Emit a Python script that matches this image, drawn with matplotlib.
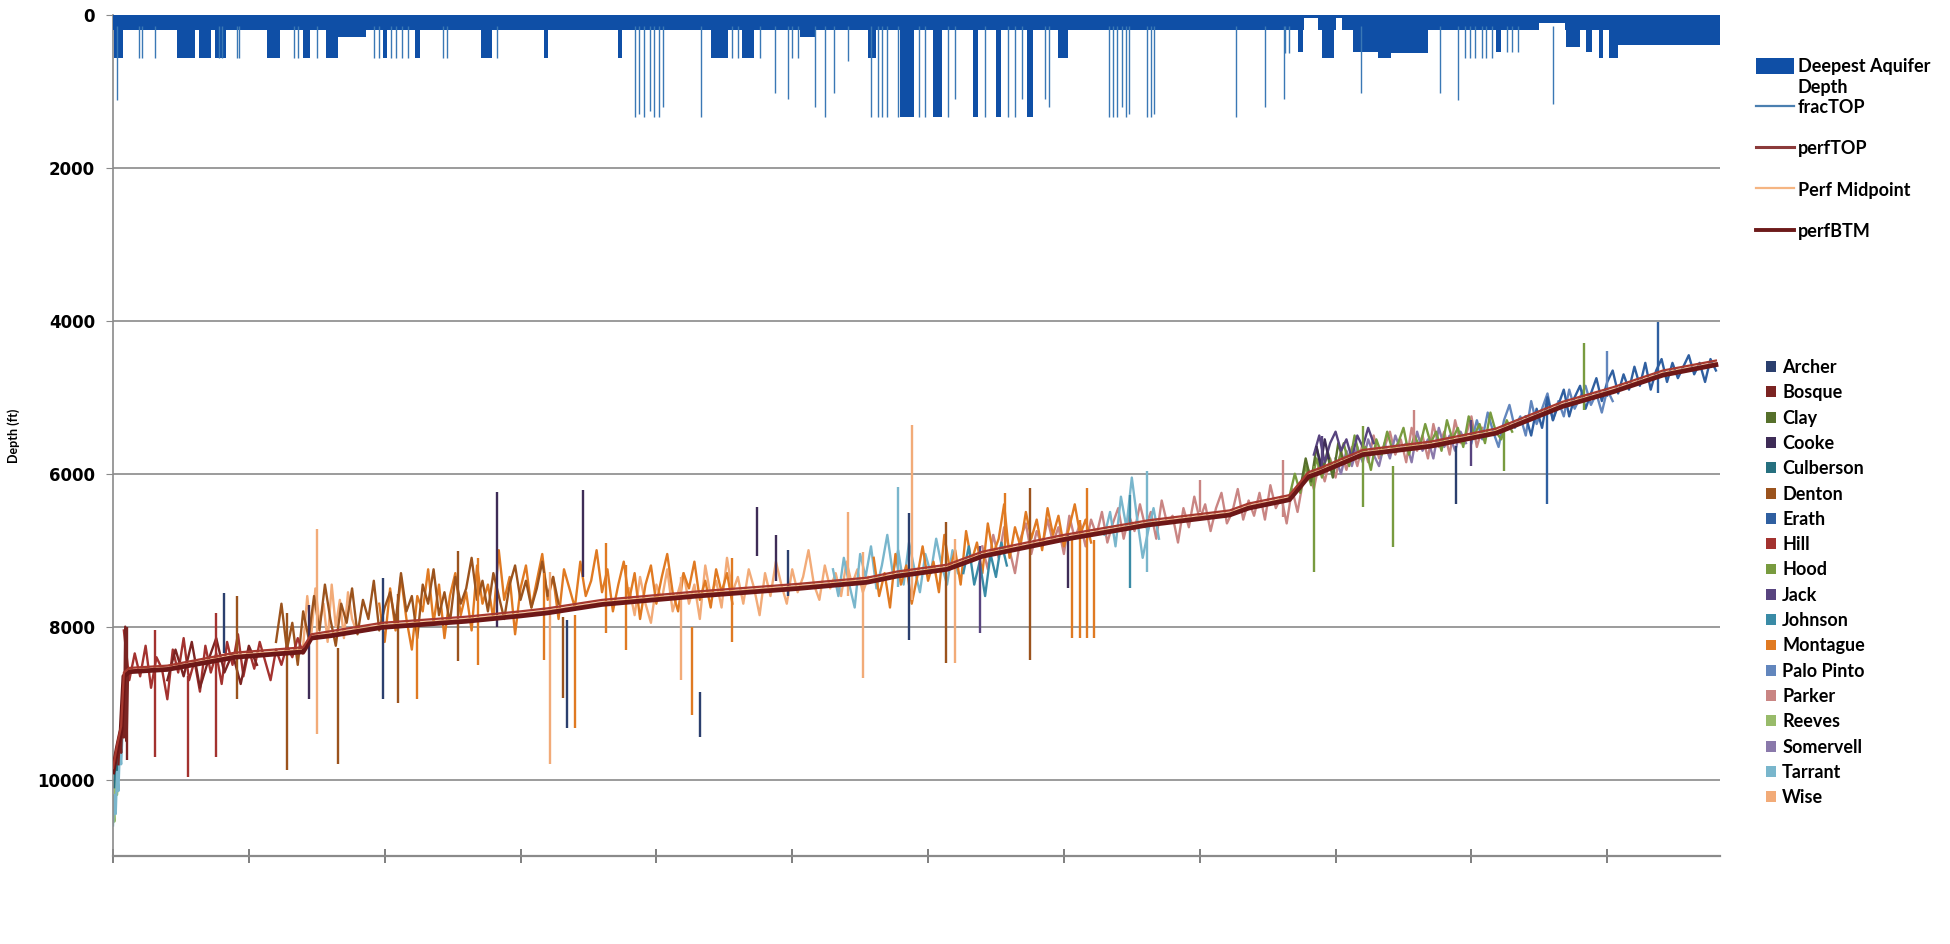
import numpy as np
import matplotlib
matplotlib.use('Agg')
import matplotlib.pyplot as plt
from matplotlib.patches import Patch
from matplotlib.lines import Line2D

plt.rcParams['font.family'] = ['Lato', 'DejaVu Sans']

# ---------------- data (x = well index, y = depth in ft) ----------------
# deepest aquifer depth, as step breakpoints
aquifer_well = [0, 1, 7, 47, 60, 63, 72, 75, 83, 113, 123, 140, 145, 157, 166, 186,
                199, 202, 222, 226, 271, 279, 317, 320, 372, 375, 440, 453, 463, 472,
                506, 517, 556, 562, 579, 590, 604, 610, 633, 637, 650, 654, 673, 677,
                696, 703, 872, 876, 877, 887, 890, 899, 900, 905, 913, 931, 941, 968,
                1018, 1022, 1050, 1069, 1070, 1080, 1084, 1089, 1094, 1097, 1101, 1108]
aquifer_depth = [190, 560, 190, 560, 190, 560, 190, 560, 190, 560, 190, 560, 190, 560, 290, 190,
                 560, 190, 560, 190, 560, 190, 560, 190, 560, 190, 560, 190, 560, 190,
                 290, 190, 560, 190, 1330, 190, 1330, 190, 1330, 190, 1330, 190, 1330, 190,
                 560, 190, 480, 190, 40, 190, 560, 190, 40, 190, 480, 560, 500, 190,
                 480, 190, 100, 190, 420, 190, 480, 190, 565, 190, 565, 390]

fractop_well = [3, 19, 21, 31, 78, 80, 91, 93, 133, 136, 150, 192, 196, 205, 208, 213, 217,
                243, 246, 283, 384, 387, 391, 395, 398, 402, 405, 433, 456, 460, 476, 487,
                497, 500, 504, 517, 524, 531, 541, 558, 563, 566, 570, 578, 593, 598, 615,
                620, 642, 659, 664, 669, 686, 689, 733, 736, 739, 743, 746, 748, 761, 764,
                766, 827, 848, 862, 863, 866, 919, 977, 990, 995, 999, 1003, 1008, 1011,
                1015, 1026, 1030, 1034, 1060]
fractop_depth = [1110, 560, 560, 560, 560, 560, 560, 560, 560, 560, 560, 560, 560, 560, 560, 560, 560,
                 560, 560, 560, 1330, 1300, 1330, 1250, 1330, 1330, 1200, 1330, 560, 560, 560, 1020,
                 1100, 560, 560, 1200, 1330, 1020, 600, 1330, 1330, 1330, 1330, 1330, 1330, 1330, 1330,
                 1100, 1330, 1330, 1330, 1100, 1100, 1200, 1330, 1330, 1330, 1200, 1330, 1300, 1330, 1330,
                 1300, 1330, 1200, 1100, 500, 500, 1020, 1020, 1110, 565, 565, 565, 565, 565,
                 565, 480, 480, 480, 1160]

perf_well = [0, 3, 6, 8, 12, 40, 90, 140, 146, 160, 198, 260, 300, 320, 360, 430, 505, 555,
             577, 614, 640, 700, 762, 822, 836, 866, 880, 888, 908, 920, 970, 1018, 1067,
             1104, 1141, 1180]
perftop_depth = [9850, 9550, 9300, 8600, 8540, 8510, 8340, 8270, 8100, 8060, 7950, 7870, 7800,
                 7760, 7650, 7540, 7440, 7360, 7280, 7190, 7020, 6800, 6610, 6480, 6390, 6280,
                 5980, 5930, 5780, 5690, 5580, 5410, 5060, 4870, 4650, 4520]
perfmid_depth = [9880, 9580, 9330, 8625, 8565, 8535, 8370, 8300, 8125, 8090, 7980, 7900, 7830,
                 7790, 7680, 7570, 7470, 7390, 7310, 7220, 7050, 6830, 6640, 6510, 6420, 6310,
                 6010, 5960, 5810, 5720, 5610, 5440, 5090, 4900, 4680, 4550]
perfbtm_depth = [9900, 9600, 9350, 8650, 8590, 8560, 8400, 8330, 8150, 8120, 8010, 7930, 7860,
                 7820, 7710, 7600, 7500, 7420, 7340, 7250, 7080, 6860, 6670, 6540, 6450, 6340,
                 6040, 5990, 5840, 5750, 5640, 5470, 5120, 4930, 4710, 4575]

counties = ['Archer', 'Bosque', 'Clay', 'Cooke', 'Culberson', 'Denton', 'Erath', 'Hill', 'Hood',
            'Jack', 'Johnson', 'Montague', 'Palo Pinto', 'Parker', 'Reeves', 'Somervell',
            'Tarrant', 'Wise']
county_colors = ['#2b3f6e', '#7b2422', '#56702b', '#3e2c57', '#26707f', '#9b531d', '#2f5fa0',
                 '#a3322f', '#789b3f', '#58447f', '#3a8ba6', '#e07a22', '#6286bd', '#c98583',
                 '#98bb6a', '#8a79ab', '#79b6cc', '#f2ab78']

# county traces: depth per well, first well and well step given with each
reeves_depth = [10300, 10550, 9900, 10200, 9800]
culberson_depth = [10100, 9700, 10000, 9500, 9650, 9300]
tarrant_a_depth = [10600, 10200, 10450, 9900, 10150, 9600, 9800, 9400]
bosque_a_depth = [9800, 9400, 9650, 9100, 9450, 8000, 9500, 8650]
bosque_b_depth = [8700, 8300, 8650, 8200, 8800, 8450, 8150, 8600, 8350, 8750, 8250, 8500]
hill_depth = [8050, 8700, 8350, 8650, 8250, 8800, 8400, 8550, 8950, 8300, 8600, 8150, 8700,
              8450, 8850, 8250, 8600, 8350, 8750, 8200, 8500, 8100, 8650, 8300, 8550, 8200,
              8450, 8700, 8300, 8500, 8250, 8400, 8150, 8350]
wise_a_depth = [8250, 7600, 8100, 7500, 7950, 7700, 8200, 7450, 8000, 7650, 8150, 7550, 7900, 8050]
denton_depth = [8200, 7700, 8300, 7950, 8500, 7800, 8150, 7600, 8050, 7450,
                7900, 8250, 7700, 7950, 7500, 8100, 7650, 7900, 7400, 8050,
                7750, 7550, 7950, 7300, 7800, 7600, 8150, 7450, 7700, 7250,
                7850, 7550, 7950, 7350, 7700, 7500, 7100, 7650, 7400, 7800,
                7300, 7600, 7900, 7450, 7200, 7650, 7400, 7750, 7500, 7150,
                7600, 7350, 7700]
montague_a_depth = [7700, 8200, 7500, 8050, 7350, 7900, 8300, 7600, 7800, 7250,
                    7950, 7450, 8150, 7600, 7300, 7850, 7550, 8050, 7200, 7700,
                    7450, 7900, 7000, 7650, 7350, 8100, 7500, 7200, 7750, 7400,
                    7050, 7650, 7350, 7900, 7250, 7500, 7750, 7150, 7600, 7400,
                    7000, 7550, 7250, 7800, 7450, 7150, 7650, 7300, 7900, 7450,
                    7200, 7700, 7350, 7050, 7550, 7800, 7300, 7500, 7150, 7650,
                    7400, 7750, 7250, 7550, 7300, 7700]
wise_b_depth = [7500, 7850, 7350, 7700, 7950, 7450, 7650, 7250, 7800, 7550,
                7300, 7700, 7450, 7900, 7200, 7600, 7400, 7750, 7100, 7550,
                7350, 7700, 7250, 7500, 7850, 7300, 7600, 7150, 7450, 7700,
                7250, 7550, 7350, 7000, 7450, 7650, 7200, 7500, 7300, 7600,
                7150, 7450, 7250, 7550, 7350]
tarrant_b_depth = [7250, 7600, 7100, 7450, 7750, 7050, 7350, 6950, 7500, 7200, 6800, 7300,
                   7000, 7450, 6900, 7250, 7550, 7050, 7300, 6850, 7200, 7450, 7000, 7300]
montague_b_depth = [7100, 7600, 7300, 7750, 7050, 7450, 7200, 7700, 7350, 6950,
                    7400, 7150, 7550, 6800, 7250, 7000, 7450, 6750, 7150, 6900,
                    7300, 6650, 7050, 6850, 6400, 7100, 6700, 6950, 6500, 6850,
                    6600, 7000, 6450, 6800, 6550, 6950, 6700, 6400, 6800, 6600, 6900]
johnson_depth = [7300, 6950, 7450, 7150, 7600, 7050, 7350, 6900, 7200]
parker_depth = [6950, 7250, 6800, 7100, 6700, 7000, 7300, 6850, 6650, 7050,
                6750, 6950, 6600, 6900, 6700, 7050, 6550, 6850, 6650, 6950,
                6600, 6800, 6500, 6900, 6650, 6450, 6850, 6550, 6750, 6400,
                6700, 6500, 6850, 6350, 6650, 6550, 6900, 6450, 6700, 6300,
                6600, 6400, 6750, 6450, 6250, 6650, 6500, 6200, 6600, 6350,
                6550, 6250, 6600, 6150, 6450, 6300, 6650, 6200, 6500, 6100,
                5950, 6200, 5850, 6100, 5800, 6050, 5700, 5950, 5650, 5900,
                5600, 5850, 5500, 5800, 5650, 5450, 5750, 5550, 5850, 5400,
                5700, 5500, 5800, 5350, 5650, 5450, 5750, 5300, 5600, 5500,
                5250, 5650, 5400]
tarrant_c_depth = [6800, 6500, 6950, 6300, 6700, 6050, 6600, 7100, 6750, 6450, 6850]
hood_depth = [6300, 6000, 6250, 5900, 6150, 5800, 6050, 5700, 5950, 5850,
              5600, 5900, 5500, 5800, 5650, 5950, 5550, 5750, 5450, 5700,
              5600, 5400, 5750, 5500, 5650, 5350, 5600, 5450, 5700, 5300,
              5550, 5400, 5650, 5250, 5500, 5350, 5600, 5200, 5450, 5550, 5300, 5450]
clay_depth = [6200, 5800, 6100, 5650, 5950, 5750, 6050, 5600, 5850]
cooke_depth = [5650, 5900, 5550, 5800]
jack_depth = [5750, 5500, 5850, 5600, 5450, 5700, 5550, 5800, 5500, 5650, 5400, 5600]
somervell_depth = [5800, 6000, 5700, 5900, 5650, 5850, 5550, 5750, 5900, 5600, 5800, 5500,
                   5700, 5600, 5850, 5450, 5700, 5550, 5800, 5400, 5650, 5500, 5700, 5450, 5600]
palo_pinto_depth = [5600, 5300, 5550, 5200, 5450, 5650, 5300, 5100, 5400, 5250, 5500, 5050,
                    5350, 5150, 4950, 5300, 5050, 5250, 4900, 5150, 5000, 4850, 5100, 4950,
                    5200, 4900, 5050]
erath_depth = [5250, 5500, 5150, 5400, 5000, 5300, 5100, 4900, 5250, 5000,
               4850, 5150, 4950, 4750, 5050, 4800, 4650, 4950, 4700, 4900,
               4600, 4850, 4550, 4900, 4650, 4500, 4800, 4550, 4750, 4600,
               4450, 4700, 4550, 4800, 4500, 4650]

# single-well spikes: well, top depth, bottom depth, county
spike_well = [10, 31, 55, 76, 82, 91, 128, 144, 150, 166, 199, 210, 224, 254, 269, 283, 317,
              322, 331, 334, 340, 346, 363, 378, 418, 426, 432, 456, 474, 488, 497, 541, 552,
              578, 586, 588, 613, 620, 638, 657, 675, 703, 706, 712, 717, 722, 749, 761, 800,
              861, 884, 890, 920, 942, 958, 989, 1000, 1024, 1056, 1083, 1100, 1137]
spike_top = [8000, 8040, 8650, 7820, 7560, 7600, 7820, 7720, 6720, 8280, 7370, 7570, 7920, 7010,
             7100, 6240, 7300, 7290, 7870, 7910, 7850, 6210, 6900, 7200, 7350, 8000, 8860, 7100,
             6430, 6800, 7000, 6500, 7030, 6180, 6510, 5360, 6630, 6860, 6950, 6250, 6190, 6800,
             6870, 6600, 6190, 6870, 6280, 5970, 6080, 5820, 5900, 5510, 5380, 5900, 5170, 5640,
             5300, 5380, 5030, 4290, 4400, 4010]
spike_bottom = [9740, 9700, 9970, 9710, 8340, 8950, 9880, 8950, 9400, 9800, 8950, 9000, 8950,
                8450, 8500, 8000, 8440, 9800, 8930, 9320, 9320, 7350, 8080, 8300, 8700, 9150,
                9450, 8200, 7080, 7400, 7600, 7600, 8670, 7480, 8170, 7650, 8470, 8470, 8080,
                7000, 8430, 7500, 8150, 8150, 8150, 8150, 7490, 7290, 6500, 6560, 7280, 6000,
                6430, 6960, 5700, 6400, 5900, 5970, 6400, 5160, 5000, 4940]
spike_county = ['Bosque', 'Hill', 'Hill', 'Hill', 'Archer', 'Denton', 'Denton', 'Cooke', 'Wise',
                'Denton', 'Archer', 'Denton', 'Montague', 'Denton', 'Montague', 'Cooke',
                'Montague', 'Wise', 'Denton', 'Archer', 'Montague', 'Cooke', 'Montague',
                'Montague', 'Wise', 'Montague', 'Archer', 'Montague', 'Cooke', 'Cooke', 'Archer',
                'Wise', 'Wise', 'Tarrant', 'Archer', 'Wise', 'Denton', 'Wise', 'Jack',
                'Montague', 'Denton', 'Cooke', 'Montague', 'Montague', 'Montague', 'Montague',
                'Johnson', 'Tarrant', 'Parker', 'Parker', 'Hood', 'Jack', 'Hood', 'Hood',
                'Parker', 'Archer', 'Jack', 'Hood', 'Erath', 'Hood', 'Palo Pinto', 'Erath']

# ---------------- figure ----------------
color_of = dict(zip(counties, county_colors))
x_max = 1183

fig = plt.figure(figsize=(19.5, 9.44), dpi=100)
ax = fig.add_axes([113 / 1950, 88 / 944, 1607 / 1950, 841 / 944])

# aquifer band at the top
aq_x = aquifer_well + [x_max]
aq_d = aquifer_depth + [aquifer_depth[-1]]
ax.fill_between(aq_x, 0, aq_d, step='post', color='#0f4fa6', lw=0, zorder=3)
ax.vlines(fractop_well, 150, fractop_depth, color='#3a78b5', lw=1.0, zorder=3)

# county traces (first well, well step, depths)
traces = [
    ('Parker', 640, 4, parker_depth),
    ('Wise', 380, 4, wise_b_depth),
    ('Wise', 140, 3, wise_a_depth),
    ('Tarrant', 530, 4, tarrant_b_depth),
    ('Tarrant', 730, 4, tarrant_c_depth),
    ('Somervell', 900, 4, somervell_depth),
    ('Palo Pinto', 1000, 4, palo_pinto_depth),
    ('Montague', 196, 4, montague_a_depth),
    ('Montague', 560, 4, montague_b_depth),
    ('Denton', 120, 4, denton_depth),
    ('Hill', 8, 4, hill_depth),
    ('Bosque', 40, 6, bosque_b_depth),
    ('Johnson', 626, 4, johnson_depth),
    ('Hood', 866, 4, hood_depth),
    ('Clay', 874, 4, clay_depth),
    ('Jack', 884, 4, jack_depth),
    ('Cooke', 886, 3, cooke_depth),
    ('Erath', 1040, 4, erath_depth),
    ('Reeves', 0, 1, reeves_depth),
    ('Culberson', 1, 1, culberson_depth),
    ('Tarrant', 0, 1, tarrant_a_depth),
    ('Bosque', 4, 1, bosque_a_depth),
]
for county, first, step, depth in traces:
    wells = first + step * np.arange(len(depth))
    ax.plot(wells, depth, color=color_of[county], lw=1.7, zorder=2)

ax.vlines(spike_well, spike_top, spike_bottom,
          colors=[color_of[c] for c in spike_county], lw=1.7, zorder=2)

# perforation lines
ax.plot(perf_well, perfmid_depth, color='#f5b582', lw=1.2, zorder=4)
ax.plot(perf_well, perfbtm_depth, color='#6d1717', lw=3.4, zorder=4)
ax.plot(perf_well, perftop_depth, color='#a8392f', lw=1.6, zorder=5)

# axes styling
ax.set_xlim(0, x_max)
ax.set_ylim(11000, 0)
ax.set_yticks(range(0, 10001, 2000))
ax.set_xticks(range(0, 1101, 100))
ax.set_xticklabels([])
ax.yaxis.grid(True, color='#8a8a8a', lw=1.2, zorder=0)
ax.set_axisbelow(True)
for s in ['top', 'right']:
    ax.spines[s].set_visible(False)
ax.spines['left'].set_color('#8a8a8a')
ax.spines['bottom'].set_color('#8a8a8a')
ax.spines['left'].set_linewidth(1.2)
ax.spines['bottom'].set_linewidth(1.6)
ax.tick_params(axis='x', direction='inout', length=10, color='#6a6a6a', width=1.2)
ax.tick_params(axis='y', direction='out', length=5, color='#8a8a8a', pad=8)
for lab in ax.get_yticklabels():
    lab.set_fontfamily('DejaVu Sans')
    lab.set_fontweight('bold')
    lab.set_fontsize(12)
ax.set_ylabel('Depth (ft)', fontsize=9, fontweight='bold')
ax.yaxis.set_label_coords(-0.058, 0.5)

# legends
h1 = [Patch(facecolor='#0f4fa6', edgecolor='none'),
      Line2D([], [], color='#4a7fb0', lw=1.6),
      Line2D([], [], color='#8b3a3a', lw=2.2),
      Line2D([], [], color='#f5b582', lw=1.6),
      Line2D([], [], color='#6d1a1a', lw=2.8)]
l1 = ['Deepest Aquifer', 'fracTOP', 'perfTOP', 'Perf Midpoint', 'perfBTM']
leg1 = fig.legend(h1, l1, loc='upper left', bbox_to_anchor=(1756 / 1950, 1 - 58 / 944),
                  frameon=False, borderpad=0, borderaxespad=0, handlelength=2.1,
                  handleheight=1.0, handletextpad=0.2, labelspacing=1.32,
                  prop={'weight': 'bold', 'size': 13})

h2 = [Patch(facecolor=c, edgecolor='none') for c in county_colors]
fig.legend(h2, counties, loc='upper left', bbox_to_anchor=(1766 / 1950, 1 - 359 / 944),
           frameon=False, borderpad=0, borderaxespad=0, handlelength=0.55,
           handleheight=0.55, handletextpad=0.35, labelspacing=0.46,
           prop={'weight': 'bold', 'size': 13})

# second line of the first legend label, placed right under it
fig.canvas.draw()
bb = leg1.get_texts()[0].get_window_extent(fig.canvas.get_renderer())
fig.text(bb.x0 / 1950, (bb.y0 - 4) / 944, 'Depth', va='top', ha='left',
         fontsize=13, fontweight='bold')

fig.savefig('out.png', dpi=100)
